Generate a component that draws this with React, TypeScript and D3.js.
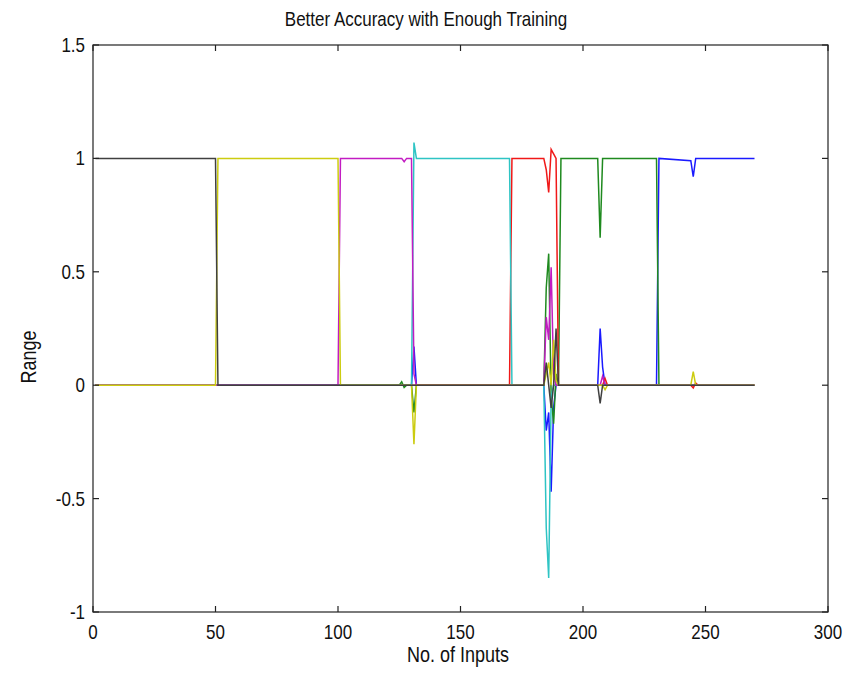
import React from "react";
import * as d3 from "d3";

const W = 851;
const H = 674;
const M = { left: 93, right: 828, top: 45, bottom: 612 };

const xTicks = [0, 50, 100, 150, 200, 250, 300];
const yTicks = [-1, -0.5, 0, 0.5, 1, 1.5];
const titleText = "Better Accuracy with Enough Training";
const xLabel = "No. of Inputs";
const yLabel = "Range";

// each series: [input index, output value] breakpoints
const seriesBlue: [number, number][] = [
  [1, 0], [130, 0], [131, 0.17], [132, 0], [184, 0], [185, -0.2], [186, -0.12], [187, -0.47],
  [188, -0.1], [189, 0], [206, 0], [207, 0.25], [208, 0.08], [209, 0], [230, 0], [231, 1],
  [244, 0.99], [245, 0.92], [246, 1], [270, 1],
];
const seriesGreen: [number, number][] = [
  [1, 0], [125, 0], [126, 0.015], [127, -0.01], [128, 0], [130, 0], [131, -0.12], [132, 0],
  [184, 0], [185, 0.43], [186, 0.58], [187, -0.05], [188, -0.17], [189, 0.05], [190, 0],
  [191, 1], [206, 1], [207, 0.65], [208, 1], [230, 1], [231, 0], [270, 0],
];
const seriesRed: [number, number][] = [
  [1, 0], [170, 0], [171, 1], [184, 1], [185, 0.95], [186, 0.85], [187, 1.04], [188, 1.02],
  [189, 1], [190, 0], [208, 0], [209, 0.03], [210, 0], [244, 0], [245, -0.012], [246, 0.01],
  [247, 0], [270, 0],
];
const seriesCyan: [number, number][] = [
  [1, 0], [130, 0], [131, 1.07], [132, 1], [170, 1], [171, 0], [184, 0], [185, -0.63],
  [186, -0.85], [187, -0.05], [188, 0], [270, 0],
];
const seriesMagenta: [number, number][] = [
  [1, 0], [100, 0], [101, 1], [126, 1], [127, 0.985], [128, 1], [130, 1], [131, 0.05],
  [132, 0], [184, 0], [185, 0.3], [186, 0.2], [187, 0.52], [188, 0.05], [189, 0], [207, 0],
  [208, 0.04], [209, 0], [270, 0],
];
const seriesYellow: [number, number][] = [
  [1, 0], [50, 0], [51, 1], [100, 1], [101, 0], [130, 0], [131, -0.26], [132, 0], [184, 0],
  [185, 0.05], [186, 0.1], [187, 0], [188, 0.2], [189, 0.02], [190, 0], [208, 0], [209, -0.02],
  [210, 0], [244, 0], [245, 0.06], [246, 0], [270, 0],
];
const seriesBlack: [number, number][] = [
  [1, 1], [50, 1], [51, 0], [184, 0], [185, 0.1], [186, 0], [187, -0.1], [188, 0], [189, 0.25],
  [190, 0], [206, 0], [207, -0.08], [208, 0], [270, 0],
];

const seriesList = [
  { data: seriesBlue, color: "#1a1aff" },
  { data: seriesGreen, color: "#1f8a1f" },
  { data: seriesRed, color: "#f01818" },
  { data: seriesCyan, color: "#2ec4c4" },
  { data: seriesMagenta, color: "#c21cc2" },
  { data: seriesYellow, color: "#cccc10" },
  { data: seriesBlack, color: "#404040" },
];

export default function App() {
  const x = d3.scaleLinear().domain([0, 300]).range([M.left, M.right]);
  const y = d3.scaleLinear().domain([-1, 1.5]).range([M.bottom, M.top]);
  const line = d3
    .line<[number, number]>()
    .x((d) => x(d[0]))
    .y((d) => y(d[1]));
  const font = "'Liberation Sans', Arial, sans-serif";
  const tl = 6;
  const sy = 1.2;
  const T = (px: number, py: number) => `translate(${px},${py}) scale(1,${sy})`;
  return (
    <svg
      width={W}
      height={H}
      style={{ position: "absolute", left: 0, top: 0, background: "#fff" }}
      fontFamily={font}
      fill="#111"
    >
      <rect x={0} y={0} width={W} height={H} fill="#fff" />
      <defs>
        <clipPath id="clip">
          <rect x={M.left} y={M.top} width={M.right - M.left} height={M.bottom - M.top} />
        </clipPath>
      </defs>
      <g clipPath="url(#clip)">
        {seriesList.map((s, i) => (
          <path key={i} d={line(s.data) || ""} fill="none" stroke={s.color} strokeWidth={1.5} />
        ))}
      </g>
      <rect
        x={M.left}
        y={M.top}
        width={M.right - M.left}
        height={M.bottom - M.top}
        fill="none"
        stroke="#222"
        strokeWidth={1.2}
      />
      {xTicks.map((t) => (
        <g key={"x" + t}>
          <line x1={x(t)} x2={x(t)} y1={M.bottom} y2={M.bottom - tl} stroke="#222" strokeWidth={1.2} />
          <line x1={x(t)} x2={x(t)} y1={M.top} y2={M.top + tl} stroke="#222" strokeWidth={1.2} />
          <text transform={T(x(t), M.bottom + 27)} textAnchor="middle" fontSize={17}>
            {t}
          </text>
        </g>
      ))}
      {yTicks.map((t) => (
        <g key={"y" + t}>
          <line x1={M.left} x2={M.left + tl} y1={y(t)} y2={y(t)} stroke="#222" strokeWidth={1.2} />
          <line x1={M.right} x2={M.right - tl} y1={y(t)} y2={y(t)} stroke="#222" strokeWidth={1.2} />
          <text transform={T(M.left - 8, y(t) + 7)} textAnchor="end" fontSize={17}>
            {t}
          </text>
        </g>
      ))}
      <text transform={T(426, 26)} textAnchor="middle" fontSize={17}>
        {titleText}
      </text>
      <text transform={T(458, M.bottom + 50)} textAnchor="middle" fontSize={18}>
        {xLabel}
      </text>
      <text
        transform={`translate(36, 357) rotate(-90) scale(1,${sy})`}
        textAnchor="middle"
        fontSize={18}
      >
        {yLabel}
      </text>
    </svg>
  );
}
